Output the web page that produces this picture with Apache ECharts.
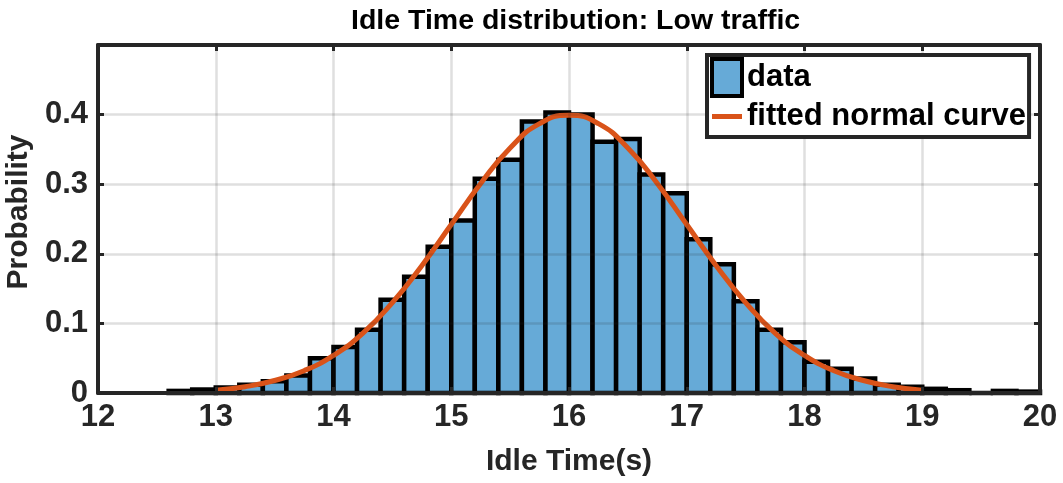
<!DOCTYPE html>
<html><head><meta charset="utf-8">
<script src="https://cdn.jsdelivr.net/npm/echarts@6/dist/echarts.min.js"></script>
<style>html,body{margin:0;padding:0;background:#fff}#c{width:1063px;height:483px}</style>
</head><body><div id="c"></div>
<script>
// Histogram bins (lower edges) and bar heights
const binLeft = [12.6, 12.8, 13.0, 13.2, 13.4, 13.6, 13.8, 14.0, 14.2, 14.4, 14.6, 14.8,
  15.0, 15.2, 15.4, 15.6, 15.8, 16.0, 16.2, 16.4, 16.6, 16.8, 17.0, 17.2, 17.4, 17.6,
  17.8, 18.0, 18.2, 18.4, 18.6, 18.8, 19.0, 19.2, 19.4, 19.6, 19.8];
const binWidth = 0.2;
const probability = [0.003, 0.005, 0.008, 0.012, 0.017, 0.025, 0.050, 0.066, 0.091, 0.134, 0.167, 0.210,
  0.248, 0.308, 0.335, 0.390, 0.403, 0.400, 0.361, 0.365, 0.314, 0.287, 0.221, 0.185, 0.132, 0.091,
  0.073, 0.045, 0.035, 0.021, 0.012, 0.009, 0.006, 0.004, 0.000, 0.003, 0.002];
// Fitted normal curve
const curveX = [13, 13.25, 13.5, 13.75, 14, 14.25, 14.5, 14.75, 15, 15.25, 15.5, 15.75, 16,
  16.25, 16.5, 16.75, 17, 17.25, 17.5, 17.75, 18, 18.25, 18.5, 18.75, 19];
const curveY = [0.004, 0.009, 0.018, 0.032, 0.054, 0.086, 0.130, 0.183, 0.242, 0.301, 0.352, 0.387, 0.399,
  0.387, 0.352, 0.301, 0.242, 0.183, 0.130, 0.086, 0.054, 0.032, 0.018, 0.009, 0.004];

const FONT = '"Liberation Sans", Arial, Helvetica, sans-serif';
const AX = '#262626';
const BAR = '#66aad7';
const CURVE = '#D95319';
const chart = echarts.init(document.getElementById('c'), null, {renderer: 'canvas'});

const axisLine = {show: true, onZero: false, lineStyle: {color: AX, width: 4}};
const axisTick = {show: true, inside: true, length: 6, lineStyle: {color: AX, width: 3}};
const gridSplit = {show: true, lineStyle: {color: 'rgba(38,38,38,0.15)', width: 2.5}};
const labelStyle = {fontFamily: FONT, fontSize: 31, fontWeight: 'bold', color: AX};
const nameStyle = {fontFamily: FONT, fontSize: 30, fontWeight: 'bold', color: AX};

const option = {
  animation: false,
  backgroundColor: '#fff',
  title: {
    text: 'Idle Time distribution: Low traffic', left: 346, top: 2,
    textStyle: {fontFamily: FONT, fontSize: 28.5, fontWeight: 'bold', color: '#000'}
  },
  grid: {left: 98, right: 23, top: 45, bottom: 90, containLabel: false, outerBoundsMode: 'none'},
  legend: {
    orient: 'vertical', left: 707, top: 55, z: 20,
    backgroundColor: '#fff', borderColor: AX, borderWidth: 4, borderRadius: 0,
    padding: [2, 3, 2, 3], itemGap: 0, itemWidth: 30, itemHeight: 37,
    textStyle: {fontFamily: FONT, fontSize: 31, fontWeight: 'bold', color: '#000'},
    data: [
      {name: 'data', icon: 'rect', itemStyle: {color: BAR, borderColor: '#000', borderWidth: 4}},
      {name: 'fitted normal curve',
        icon: 'path://M0,0 L0.001,0 L0.001,37 L0,37 Z M0,16 L30,16 L30,21 L0,21 Z',
        itemStyle: {color: CURVE, borderWidth: 0}}
    ]
  },
  xAxis: [
    {type: 'value', min: 12, max: 20, interval: 1, position: 'bottom', z: 10,
      axisLine, axisTick, splitLine: gridSplit,
      axisLabel: Object.assign({margin: 9}, labelStyle),
      name: 'Idle Time(s)', nameLocation: 'middle', nameGap: 54, nameTextStyle: nameStyle},
    {type: 'value', min: 12, max: 20, interval: 1, position: 'top', z: 10,
      axisLine, axisTick, splitLine: {show: false}, axisLabel: {show: false}}
  ],
  yAxis: [
    {type: 'value', min: 0, max: 0.5, interval: 0.1, position: 'left', z: 10,
      axisLine, axisTick, splitLine: gridSplit,
      axisLabel: Object.assign({margin: 10, formatter: v => (Math.abs(v - 0.5) < 1e-9 ? '' : String(Math.round(v * 10) / 10))}, labelStyle),
      name: 'Probability', nameLocation: 'middle', nameGap: 55,
      nameTextStyle: Object.assign({padding: [0, 0, 0, 14]}, nameStyle)},
    {type: 'value', min: 0, max: 0.5, interval: 0.1, position: 'right', z: 10,
      axisLine, axisTick, splitLine: {show: false}, axisLabel: {show: false}}
  ],
  series: [
    {
      name: 'data', type: 'custom', xAxisIndex: 0, yAxisIndex: 0, z: 2,
      itemStyle: {color: BAR, borderColor: '#000', borderWidth: 4},
      encode: {x: 0, y: 1},
      data: binLeft.map((x, i) => [x, probability[i]]),
      renderItem: (params, api) => {
        const x0 = api.value(0);
        const v = api.value(1);
        const p0 = api.coord([x0, v]);
        const p1 = api.coord([x0 + binWidth, 0]);
        return {
          type: 'rect',
          shape: {x: p0[0], y: p0[1], width: p1[0] - p0[0], height: p1[1] - p0[1]},
          style: {fill: BAR, stroke: '#000', lineWidth: 4.5}
        };
      }
    },
    {
      name: 'fitted normal curve', type: 'line', xAxisIndex: 0, yAxisIndex: 0, z: 3,
      smooth: true, symbol: 'none', showSymbol: false,
      lineStyle: {color: CURVE, width: 5}, itemStyle: {color: CURVE},
      data: curveX.map((x, i) => [x, curveY[i]])
    }
  ]
};
chart.setOption(option);
</script>
</body></html>
